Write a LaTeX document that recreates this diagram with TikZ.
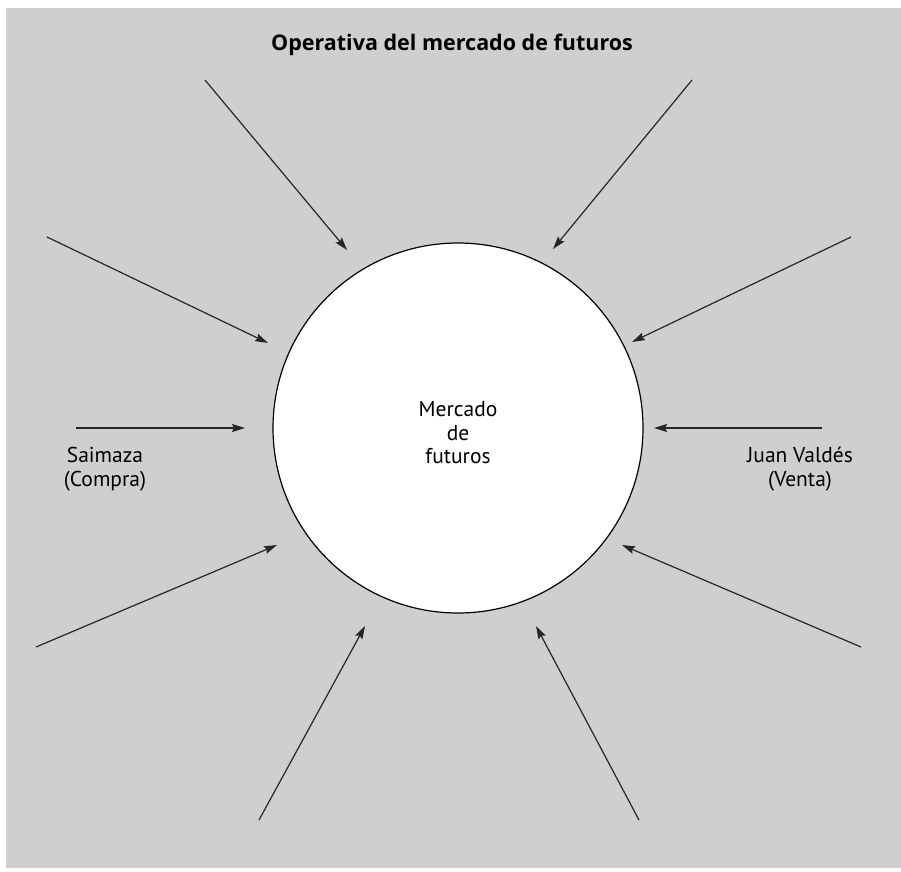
\documentclass[tikz,border=0pt]{standalone}
\usepackage{fontspec}
\setmainfont{PT Sans}
\newfontfamily\titlefont{Open Sans}
\usetikzlibrary{arrows.meta}
\definecolor{panel}{RGB}{207,207,207}
\begin{document}
\begin{tikzpicture}[x=1pt,y=-1pt,
  feed/.style={draw=black!85,line width=1.2pt,-{Stealth[length=13pt,width=8pt,inset=2pt]}},
  lbl/.style={font=\fontsize{21.5}{23.5}\selectfont,align=center,inner sep=0pt}]
  \useasboundingbox (0,0) rectangle (901,871);
  \fill[white] (0,0) rectangle (901,871);
  \fill[panel] (6,8) rectangle (901,868);

  % title
  \node[font=\titlefont\bfseries\fontsize{21.5}{24}\selectfont,inner sep=0pt] (title) at (452,45) {Operativa del mercado de futuros};

  % central market
  \node[circle,draw=black,line width=1.2pt,fill=white,minimum size=370pt,inner sep=0pt] (m) at (458,428) {};
  \node[lbl] (mtext) at (458,433) {Mercado\\de\\futuros};

  % side labels
  \node[lbl] (buy) at (105,469) {Saimaza\\(Compra)};
  \node[lbl] (sell) at (800,469) {Juan Valdés\\(Venta)};

  % arrow end points
  \coordinate (a1) at (205,80);  \coordinate (b1) at (347,250);
  \coordinate (a2) at (692,80);  \coordinate (b2) at (553,249);
  \coordinate (a3) at (47,237);  \coordinate (b3) at (268,343);
  \coordinate (a4) at (851,237); \coordinate (b4) at (632,342);
  \coordinate (a5) at (76,428);  \coordinate (b5) at (245,428);
  \coordinate (a6) at (822,428); \coordinate (b6) at (654,428);
  \coordinate (a7) at (36,647);  \coordinate (b7) at (277,545);
  \coordinate (a8) at (861,647); \coordinate (b8) at (622,545);
  \coordinate (a9) at (259,820); \coordinate (b9) at (365,626);
  \coordinate (a10) at (639,820); \coordinate (b10) at (536,626);

  \foreach \i in {1,...,10} \draw[feed] (a\i) -- (b\i);
\end{tikzpicture}
\end{document}
